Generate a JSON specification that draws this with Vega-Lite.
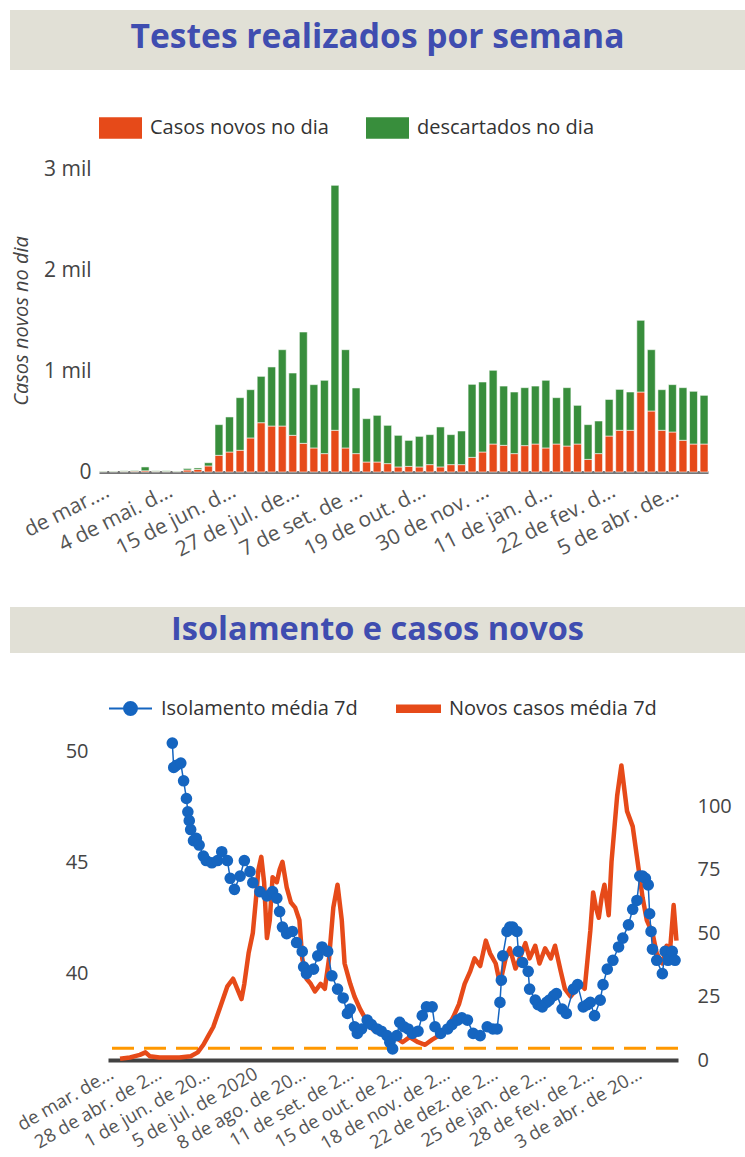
{
  "$schema": "https://vega.github.io/schema/vega-lite/v6.json",
  "background": "white",
  "padding": {"left": 10, "top": 10, "right": 0, "bottom": 0},
  "config": {"font": "Open Sans", "view": {"stroke": null}},
  "resolve": {"scale": {"color": "independent"}, "legend": {"color": "independent"}},
  "datasets": {
    "semanal": [
      {"s": "23 de mar. de 2020", "casos": 5, "descartados": 5},
      {"s": "30 de mar. de 2020", "casos": 5, "descartados": 5},
      {"s": "6 de abr. de 2020", "casos": 6, "descartados": 6},
      {"s": "13 de abr. de 2020", "casos": 8, "descartados": 7},
      {"s": "20 de abr. de 2020", "casos": 12, "descartados": 38},
      {"s": "27 de abr. de 2020", "casos": 6, "descartados": 6},
      {"s": "4 de mai. de 2020", "casos": 6, "descartados": 6},
      {"s": "11 de mai. de 2020", "casos": 5, "descartados": 5},
      {"s": "18 de mai. de 2020", "casos": 20, "descartados": 15},
      {"s": "25 de mai. de 2020", "casos": 25, "descartados": 15},
      {"s": "1 de jun. de 2020", "casos": 60, "descartados": 32},
      {"s": "8 de jun. de 2020", "casos": 165, "descartados": 304},
      {"s": "15 de jun. de 2020", "casos": 198, "descartados": 347},
      {"s": "22 de jun. de 2020", "casos": 215, "descartados": 521},
      {"s": "29 de jun. de 2020", "casos": 337, "descartados": 478},
      {"s": "6 de jul. de 2020", "casos": 488, "descartados": 459},
      {"s": "13 de jul. de 2020", "casos": 455, "descartados": 585},
      {"s": "20 de jul. de 2020", "casos": 455, "descartados": 756},
      {"s": "27 de jul. de 2020", "casos": 363, "descartados": 617},
      {"s": "3 de ago. de 2020", "casos": 284, "descartados": 1102},
      {"s": "10 de ago. de 2020", "casos": 238, "descartados": 627},
      {"s": "17 de ago. de 2020", "casos": 182, "descartados": 726},
      {"s": "24 de ago. de 2020", "casos": 413, "descartados": 2425},
      {"s": "31 de ago. de 2020", "casos": 238, "descartados": 973},
      {"s": "7 de set. de 2020", "casos": 182, "descartados": 650},
      {"s": "14 de set. de 2020", "casos": 99, "descartados": 429},
      {"s": "21 de set. de 2020", "casos": 99, "descartados": 462},
      {"s": "28 de set. de 2020", "casos": 83, "descartados": 379},
      {"s": "5 de out. de 2020", "casos": 50, "descartados": 313},
      {"s": "12 de out. de 2020", "casos": 56, "descartados": 257},
      {"s": "19 de out. de 2020", "casos": 50, "descartados": 303},
      {"s": "26 de out. de 2020", "casos": 73, "descartados": 297},
      {"s": "2 de nov. de 2020", "casos": 50, "descartados": 396},
      {"s": "9 de nov. de 2020", "casos": 73, "descartados": 297},
      {"s": "16 de nov. de 2020", "casos": 73, "descartados": 333},
      {"s": "23 de nov. de 2020", "casos": 145, "descartados": 723},
      {"s": "30 de nov. de 2020", "casos": 198, "descartados": 693},
      {"s": "7 de dez. de 2020", "casos": 277, "descartados": 730},
      {"s": "14 de dez. de 2020", "casos": 264, "descartados": 587},
      {"s": "21 de dez. de 2020", "casos": 182, "descartados": 610},
      {"s": "28 de dez. de 2020", "casos": 261, "descartados": 574},
      {"s": "4 de jan. de 2021", "casos": 277, "descartados": 574},
      {"s": "11 de jan. de 2021", "casos": 238, "descartados": 670},
      {"s": "18 de jan. de 2021", "casos": 277, "descartados": 459},
      {"s": "25 de jan. de 2021", "casos": 257, "descartados": 578},
      {"s": "1 de fev. de 2021", "casos": 277, "descartados": 383},
      {"s": "8 de fev. de 2021", "casos": 125, "descartados": 344},
      {"s": "15 de fev. de 2021", "casos": 182, "descartados": 323},
      {"s": "22 de fev. de 2021", "casos": 356, "descartados": 363},
      {"s": "1 de mar. de 2021", "casos": 413, "descartados": 405},
      {"s": "8 de mar. de 2021", "casos": 413, "descartados": 379},
      {"s": "15 de mar. de 2021", "casos": 792, "descartados": 710},
      {"s": "22 de mar. de 2021", "casos": 604, "descartados": 607},
      {"s": "29 de mar. de 2021", "casos": 413, "descartados": 402},
      {"s": "5 de abr. de 2021", "casos": 396, "descartados": 469},
      {"s": "12 de abr. de 2021", "casos": 314, "descartados": 521},
      {"s": "19 de abr. de 2021", "casos": 277, "descartados": 522},
      {"s": "26 de abr. de 2021", "casos": 277, "descartados": 482}
    ],
    "casos7d": [
      {"data": "2020-03-30", "v": 0.5}, {"data": "2020-04-06", "v": 1}, {"data": "2020-04-13", "v": 2},
      {"data": "2020-04-17", "v": 3}, {"data": "2020-04-20", "v": 1.5}, {"data": "2020-04-27", "v": 1},
      {"data": "2020-05-04", "v": 1}, {"data": "2020-05-11", "v": 1}, {"data": "2020-05-19", "v": 1.5},
      {"data": "2020-05-24", "v": 3}, {"data": "2020-05-28", "v": 6}, {"data": "2020-05-31", "v": 9},
      {"data": "2020-06-04", "v": 13}, {"data": "2020-06-09", "v": 21}, {"data": "2020-06-14", "v": 29},
      {"data": "2020-06-18", "v": 32}, {"data": "2020-06-21", "v": 28}, {"data": "2020-06-24", "v": 24},
      {"data": "2020-06-26", "v": 30}, {"data": "2020-06-29", "v": 42}, {"data": "2020-07-02", "v": 50},
      {"data": "2020-07-04", "v": 62}, {"data": "2020-07-06", "v": 75}, {"data": "2020-07-08", "v": 80},
      {"data": "2020-07-10", "v": 70}, {"data": "2020-07-12", "v": 48}, {"data": "2020-07-14", "v": 55},
      {"data": "2020-07-16", "v": 72}, {"data": "2020-07-19", "v": 70}, {"data": "2020-07-21", "v": 75},
      {"data": "2020-07-23", "v": 78}, {"data": "2020-07-26", "v": 68}, {"data": "2020-07-29", "v": 62},
      {"data": "2020-08-01", "v": 60}, {"data": "2020-08-04", "v": 55}, {"data": "2020-08-06", "v": 40},
      {"data": "2020-08-09", "v": 32}, {"data": "2020-08-12", "v": 30}, {"data": "2020-08-15", "v": 27},
      {"data": "2020-08-19", "v": 30}, {"data": "2020-08-22", "v": 28}, {"data": "2020-08-25", "v": 40},
      {"data": "2020-08-28", "v": 60}, {"data": "2020-08-31", "v": 69}, {"data": "2020-09-03", "v": 55},
      {"data": "2020-09-05", "v": 38}, {"data": "2020-09-09", "v": 30}, {"data": "2020-09-12", "v": 25},
      {"data": "2020-09-16", "v": 20}, {"data": "2020-09-20", "v": 16}, {"data": "2020-09-25", "v": 12},
      {"data": "2020-09-30", "v": 12}, {"data": "2020-10-05", "v": 10}, {"data": "2020-10-11", "v": 9},
      {"data": "2020-10-16", "v": 7}, {"data": "2020-10-21", "v": 9}, {"data": "2020-10-27", "v": 7},
      {"data": "2020-11-01", "v": 6}, {"data": "2020-11-06", "v": 8}, {"data": "2020-11-12", "v": 10},
      {"data": "2020-11-17", "v": 13}, {"data": "2020-11-21", "v": 17}, {"data": "2020-11-25", "v": 22},
      {"data": "2020-11-29", "v": 30}, {"data": "2020-12-03", "v": 35}, {"data": "2020-12-06", "v": 40},
      {"data": "2020-12-10", "v": 37}, {"data": "2020-12-14", "v": 47}, {"data": "2020-12-17", "v": 42},
      {"data": "2020-12-21", "v": 38}, {"data": "2020-12-24", "v": 30}, {"data": "2020-12-28", "v": 40},
      {"data": "2020-12-31", "v": 44}, {"data": "2021-01-04", "v": 36}, {"data": "2021-01-07", "v": 40},
      {"data": "2021-01-11", "v": 46}, {"data": "2021-01-14", "v": 40}, {"data": "2021-01-18", "v": 45},
      {"data": "2021-01-21", "v": 38}, {"data": "2021-01-25", "v": 44}, {"data": "2021-01-29", "v": 40},
      {"data": "2021-02-01", "v": 45}, {"data": "2021-02-05", "v": 35}, {"data": "2021-02-08", "v": 28},
      {"data": "2021-02-12", "v": 25}, {"data": "2021-02-15", "v": 27}, {"data": "2021-02-19", "v": 30},
      {"data": "2021-02-22", "v": 28}, {"data": "2021-02-26", "v": 51}, {"data": "2021-02-28", "v": 66},
      {"data": "2021-03-02", "v": 60}, {"data": "2021-03-04", "v": 56}, {"data": "2021-03-06", "v": 64},
      {"data": "2021-03-08", "v": 69}, {"data": "2021-03-11", "v": 57}, {"data": "2021-03-13", "v": 78},
      {"data": "2021-03-17", "v": 104}, {"data": "2021-03-20", "v": 116}, {"data": "2021-03-24", "v": 98},
      {"data": "2021-03-28", "v": 92}, {"data": "2021-03-31", "v": 80}, {"data": "2021-04-04", "v": 64},
      {"data": "2021-04-07", "v": 55}, {"data": "2021-04-11", "v": 50}, {"data": "2021-04-14", "v": 42},
      {"data": "2021-04-18", "v": 38}, {"data": "2021-04-21", "v": 45}, {"data": "2021-04-23", "v": 40},
      {"data": "2021-04-26", "v": 61}, {"data": "2021-04-28", "v": 47}
    ],
    "isol7d": [
      {"data": "2020-05-06", "v": 50.4}, {"data": "2020-05-07", "v": 49.3}, {"data": "2020-05-09", "v": 49.4},
      {"data": "2020-05-12", "v": 49.5}, {"data": "2020-05-14", "v": 48.7}, {"data": "2020-05-16", "v": 47.9},
      {"data": "2020-05-17", "v": 47.3}, {"data": "2020-05-18", "v": 46.9}, {"data": "2020-05-19", "v": 46.5},
      {"data": "2020-05-21", "v": 46.0}, {"data": "2020-05-23", "v": 46.1}, {"data": "2020-05-25", "v": 45.8},
      {"data": "2020-05-28", "v": 45.3}, {"data": "2020-05-30", "v": 45.1}, {"data": "2020-06-03", "v": 45.0},
      {"data": "2020-06-07", "v": 45.1}, {"data": "2020-06-10", "v": 45.5}, {"data": "2020-06-14", "v": 45.1},
      {"data": "2020-06-16", "v": 44.3}, {"data": "2020-06-19", "v": 43.8}, {"data": "2020-06-23", "v": 44.4},
      {"data": "2020-06-26", "v": 45.1}, {"data": "2020-06-30", "v": 44.6}, {"data": "2020-07-02", "v": 44.1},
      {"data": "2020-07-07", "v": 43.7}, {"data": "2020-07-12", "v": 43.5}, {"data": "2020-07-16", "v": 43.7},
      {"data": "2020-07-19", "v": 43.4}, {"data": "2020-07-21", "v": 42.8}, {"data": "2020-07-23", "v": 42.1},
      {"data": "2020-07-26", "v": 41.8}, {"data": "2020-07-30", "v": 41.9}, {"data": "2020-08-02", "v": 41.4},
      {"data": "2020-08-06", "v": 41.0}, {"data": "2020-08-07", "v": 40.3}, {"data": "2020-08-09", "v": 40.0},
      {"data": "2020-08-14", "v": 40.2}, {"data": "2020-08-17", "v": 40.8}, {"data": "2020-08-20", "v": 41.2},
      {"data": "2020-08-24", "v": 41.0}, {"data": "2020-08-27", "v": 39.9}, {"data": "2020-08-31", "v": 39.3},
      {"data": "2020-09-04", "v": 38.9}, {"data": "2020-09-07", "v": 38.2}, {"data": "2020-09-09", "v": 38.4},
      {"data": "2020-09-12", "v": 37.6}, {"data": "2020-09-14", "v": 37.3}, {"data": "2020-09-17", "v": 37.5},
      {"data": "2020-09-21", "v": 37.9}, {"data": "2020-09-24", "v": 37.7}, {"data": "2020-09-28", "v": 37.5},
      {"data": "2020-10-01", "v": 37.4}, {"data": "2020-10-05", "v": 37.2}, {"data": "2020-10-07", "v": 36.9},
      {"data": "2020-10-09", "v": 36.6}, {"data": "2020-10-12", "v": 37.2}, {"data": "2020-10-14", "v": 37.8},
      {"data": "2020-10-17", "v": 37.6}, {"data": "2020-10-20", "v": 37.5}, {"data": "2020-10-23", "v": 37.3},
      {"data": "2020-10-27", "v": 37.4}, {"data": "2020-10-30", "v": 38.1}, {"data": "2020-11-02", "v": 38.5},
      {"data": "2020-11-06", "v": 38.5}, {"data": "2020-11-08", "v": 37.6}, {"data": "2020-11-12", "v": 37.3},
      {"data": "2020-11-17", "v": 37.5}, {"data": "2020-11-20", "v": 37.7}, {"data": "2020-11-24", "v": 37.9},
      {"data": "2020-11-27", "v": 38.0}, {"data": "2020-12-01", "v": 37.9}, {"data": "2020-12-05", "v": 37.3},
      {"data": "2020-12-10", "v": 37.2}, {"data": "2020-12-15", "v": 37.6}, {"data": "2020-12-19", "v": 37.5},
      {"data": "2020-12-22", "v": 37.5}, {"data": "2020-12-24", "v": 38.7}, {"data": "2020-12-25", "v": 39.7},
      {"data": "2020-12-26", "v": 40.8}, {"data": "2020-12-29", "v": 41.9}, {"data": "2020-12-31", "v": 42.1},
      {"data": "2021-01-02", "v": 42.1}, {"data": "2021-01-05", "v": 41.9}, {"data": "2021-01-06", "v": 41.0},
      {"data": "2021-01-09", "v": 40.5}, {"data": "2021-01-13", "v": 40.1}, {"data": "2021-01-14", "v": 39.3},
      {"data": "2021-01-18", "v": 38.8}, {"data": "2021-01-20", "v": 38.6}, {"data": "2021-01-23", "v": 38.5},
      {"data": "2021-01-26", "v": 38.7}, {"data": "2021-01-28", "v": 38.8}, {"data": "2021-01-31", "v": 39.0},
      {"data": "2021-02-02", "v": 39.1}, {"data": "2021-02-06", "v": 38.4}, {"data": "2021-02-09", "v": 38.2},
      {"data": "2021-02-14", "v": 39.3}, {"data": "2021-02-17", "v": 39.5}, {"data": "2021-02-21", "v": 38.5},
      {"data": "2021-02-24", "v": 38.6}, {"data": "2021-02-26", "v": 38.7}, {"data": "2021-03-01", "v": 38.1},
      {"data": "2021-03-05", "v": 38.8}, {"data": "2021-03-07", "v": 39.5}, {"data": "2021-03-10", "v": 40.2},
      {"data": "2021-03-14", "v": 40.6}, {"data": "2021-03-18", "v": 41.2}, {"data": "2021-03-21", "v": 41.6},
      {"data": "2021-03-25", "v": 42.2}, {"data": "2021-03-28", "v": 42.9}, {"data": "2021-03-31", "v": 43.3},
      {"data": "2021-04-02", "v": 44.4}, {"data": "2021-04-04", "v": 44.4}, {"data": "2021-04-06", "v": 44.3},
      {"data": "2021-04-08", "v": 44.0}, {"data": "2021-04-09", "v": 42.7}, {"data": "2021-04-10", "v": 41.9},
      {"data": "2021-04-11", "v": 41.1}, {"data": "2021-04-14", "v": 40.6}, {"data": "2021-04-18", "v": 40.0},
      {"data": "2021-04-20", "v": 41.0}, {"data": "2021-04-22", "v": 40.6}, {"data": "2021-04-25", "v": 41.0},
      {"data": "2021-04-27", "v": 40.6}
    ]
  },
  "concat": [
    {
      "resolve": {"scale": {"color": "independent"}, "legend": {"color": "independent"}},
      "concat": [
        {
          "width": 735, "height": 60,
          "view": {"fill": "#e1e0d6", "stroke": null},
          "data": {"values": [{"t": "Testes realizados por semana"}]},
          "mark": {"type": "text", "font": "Open Sans", "fontSize": 33.6, "fontWeight": "bold", "color": "#3f4db0", "dy": -2},
          "encoding": {"text": {"field": "t", "type": "nominal"}}
        },
        {
          "resolve": {"scale": {"color": "independent"}, "legend": {"color": "independent"}},
          "hconcat": [
            {"width": 1, "height": 1, "data": {"values": []}, "mark": "point"},
            {
              "width": 609, "height": 303,
              "data": {"name": "semanal"},
              "transform": [{"fold": ["casos", "descartados"], "as": ["serie", "valor"]}],
              "mark": {"type": "bar", "stroke": "#ffffff", "strokeWidth": 0.8, "strokeOpacity": 0.7},
              "encoding": {
                "x": {
                  "field": "s", "type": "ordinal", "sort": null,
                  "scale": {"paddingInner": 0.25, "paddingOuter": 0},
                  "axis": {
                    "title": null,
                    "values": ["23 de mar. de 2020", "4 de mai. de 2020", "15 de jun. de 2020", "27 de jul. de 2020", "7 de set. de 2020", "19 de out. de 2020", "30 de nov. de 2020", "11 de jan. de 2021", "22 de fev. de 2021", "5 de abr. de 2021"],
                    "labelExpr": "datum.label === '23 de mar. de 2020' ? 'de mar....' : datum.label",
                    "labelAngle": -27, "labelFontSize": 21, "labelColor": "#555555", "labelLimit": 135,
                    "labelPadding": 8, "labelOverlap": false, "ticks": false,
                    "domainColor": "#757575", "domainWidth": 3
                  }
                },
                "y": {
                  "field": "valor", "type": "quantitative", "stack": "zero",
                  "scale": {"domain": [0, 3000], "nice": false},
                  "axis": {
                    "title": "Casos novos no dia", "values": [0, 1000, 2000, 3000],
                    "labelExpr": "datum.value === 0 ? '0' : format(datum.value / 1000, 'd') + ' mil'",
                    "labelFontSize": 21, "labelColor": "#444444", "labelPadding": 8,
                    "ticks": false, "domain": false, "grid": false,
                    "titleFontStyle": "italic", "titleFontWeight": "normal", "titleFontSize": 20,
                    "titleColor": "#444444", "titlePadding": 12
                  }
                },
                "color": {
                  "field": "serie", "type": "nominal",
                  "scale": {"domain": ["casos", "descartados"], "range": ["#e64a19", "#388e3c"]},
                  "legend": {
                    "orient": "top", "direction": "horizontal", "title": null,
                    "labelExpr": "datum.value === 'casos' ? 'Casos novos no dia' : 'descartados no dia'",
                    "labelFontSize": 20, "labelColor": "#333333", "labelLimit": 400,
                    "symbolType": "M-1,-0.5L1,-0.5L1,0.5L-1,0.5Z", "symbolSize": 1849, "symbolStrokeWidth": 0,
                    "labelOffset": 8, "columnPadding": 37, "offset": 30
                  }
                },
                "order": {"field": "serie", "sort": "ascending"}
              }
            }
          ],
          "spacing": 0
        }
      ],
      "columns": 1, "spacing": 36
    },
    {
      "resolve": {"scale": {"color": "independent"}, "legend": {"color": "independent"}},
      "concat": [
        {
          "width": 735, "height": 46,
          "view": {"fill": "#e1e0d6", "stroke": null},
          "data": {"values": [{"t": "Isolamento e casos novos"}]},
          "mark": {"type": "text", "font": "Open Sans", "fontSize": 32.5, "fontWeight": "bold", "color": "#3f4db0"},
          "encoding": {"text": {"field": "t", "type": "nominal"}}
        },
        {
          "resolve": {"scale": {"color": "independent"}, "legend": {"color": "independent"}},
          "hconcat": [
            {"width": 3, "height": 1, "data": {"values": []}, "mark": "point"},
            {
              "width": 570, "height": 320,
              "layer": [
                {
                  "data": {"values": [{"limiar": 4.6}]},
                  "mark": {"type": "rule", "color": "#ff9800", "strokeWidth": 3, "strokeDash": [22, 10]},
                  "encoding": {
                    "y": {"field": "limiar", "type": "quantitative", "scale": {"domain": [0, 126], "nice": false}, "axis": null}
                  }
                },
                {
                  "data": {"name": "casos7d"},
                  "mark": {"type": "line", "strokeWidth": 4.5, "strokeJoin": "round"},
                  "encoding": {
                    "x": {
                      "field": "data", "type": "temporal",
                      "scale": {"type": "utc", "domain": [{"year": 2020, "month": 3, "date": 21, "hours": 11, "utc": true}, {"year": 2021, "month": 4, "date": 29, "hours": 2, "utc": true}]},
                      "axis": {
                        "title": null,
                        "values": [
                          {"year": 2020, "month": 3, "date": 25, "utc": true},
                          {"year": 2020, "month": 4, "date": 28, "utc": true},
                          {"year": 2020, "month": 6, "date": 1, "utc": true},
                          {"year": 2020, "month": 7, "date": 5, "utc": true},
                          {"year": 2020, "month": 8, "date": 8, "utc": true},
                          {"year": 2020, "month": 9, "date": 11, "utc": true},
                          {"year": 2020, "month": 10, "date": 15, "utc": true},
                          {"year": 2020, "month": 11, "date": 18, "utc": true},
                          {"year": 2020, "month": 12, "date": 22, "utc": true},
                          {"year": 2021, "month": 1, "date": 25, "utc": true},
                          {"year": 2021, "month": 2, "date": 28, "utc": true},
                          {"year": 2021, "month": 4, "date": 3, "utc": true}
                        ],
                        "labelExpr": "(utcyear(datum.value) === 2020 && utcmonth(datum.value) === 2) ? 'de mar. de...' : utcdate(datum.value) + ' de ' + ['jan.','fev.','mar.','abr.','mai.','jun.','jul.','ago.','set.','out.','nov.','dez.'][utcmonth(datum.value)] + ' de ' + utcyear(datum.value)",
                        "labelAngle": -30, "labelFontSize": 18.5, "labelColor": "#555555", "labelLimit": 146,
                        "labelPadding": 4, "labelOffset": -6, "labelOverlap": false, "labelFlush": false, "ticks": false, "grid": false,
                        "domainColor": "#424242", "domainWidth": 4
                      }
                    },
                    "y": {
                      "field": "v", "type": "quantitative",
                      "scale": {"domain": [0, 126], "nice": false},
                      "axis": {
                        "orient": "right", "title": null, "values": [0, 25, 50, 75, 100],
                        "labelFontSize": 20, "labelColor": "#444444", "labelPadding": 19,
                        "ticks": false, "domain": false, "grid": false
                      }
                    },
                    "color": {"datum": "Novos casos média 7d", "type": "nominal"}
                  }
                },
                {
                  "data": {"name": "isol7d"},
                  "mark": {"type": "line", "strokeWidth": 1.5, "point": {"filled": true, "size": 135}},
                  "encoding": {
                    "x": {"field": "data", "type": "temporal"},
                    "y": {
                      "field": "v", "type": "quantitative",
                      "scale": {"domain": [36.1, 50.54], "nice": false, "zero": false},
                      "axis": {
                        "orient": "left", "title": null, "values": [40, 45, 50],
                        "labelFontSize": 20, "labelColor": "#444444", "labelPadding": 20,
                        "ticks": false, "domain": false, "grid": false
                      }
                    },
                    "color": {
                      "datum": "Isolamento média 7d", "type": "nominal",
                      "scale": {"domain": ["Isolamento média 7d", "Novos casos média 7d"], "range": ["#1565c0", "#e64a19"]},
                      "legend": {
                        "orient": "top", "direction": "horizontal", "title": null,
                        "labelFontSize": 20, "labelColor": "#333333", "labelLimit": 400,
                        "symbolSize": 1849, "symbolStrokeWidth": 2,
                        "labelOffset": 8, "columnPadding": 35, "offset": 21,
                        "encode": {
                          "symbols": {
                            "update": {
                              "shape": {"signal": "datum.value === 'Isolamento média 7d' ? 'M-1,0L1,0M-0.3,0A0.3,0.3,0,1,1,0.3,0A0.3,0.3,0,1,1,-0.3,0' : 'M-1,-0.15L1,-0.15L1,0.15L-1,0.15Z'"},
                              "fill": {"signal": "datum.value === 'Isolamento média 7d' ? '#1565c0' : '#e64a19'"},
                              "stroke": {"signal": "datum.value === 'Isolamento média 7d' ? '#3d85d6' : '#e64a19'"},
                              "fillOpacity": {"value": 1},
                              "strokeOpacity": {"value": 1},
                              "opacity": {"value": 1}
                            }
                          }
                        }
                      }
                    }
                  }
                }
              ],
              "resolve": {"scale": {"y": "independent"}, "axis": {"y": "independent"}}
            }
          ],
          "spacing": 0
        }
      ],
      "columns": 1, "spacing": 33
    }
  ],
  "columns": 1, "spacing": 47
}
